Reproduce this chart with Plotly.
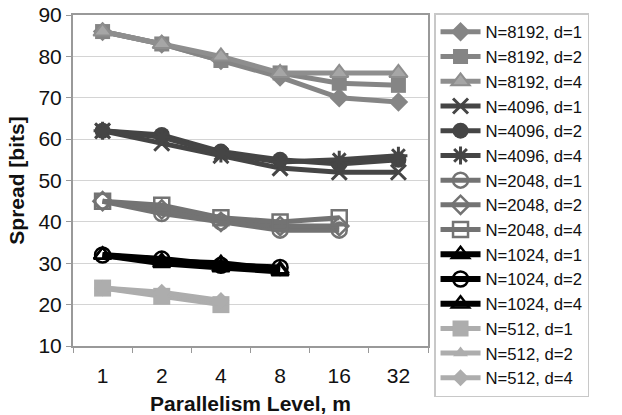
import plotly.graph_objects as go

levels = ["1", "2", "4", "8", "16", "32"]

n8192_d1 = [86, 83, 79, 75, 70, 69]
n8192_d2 = [86, 83, 79, 76, 73.5, 73]
n8192_d4 = [86, 83, 80, 76, 76, 76]
n4096_d1 = [62, 59, 56, 53, 52, 52]
n4096_d2 = [62, 61, 57, 55, 54, 55]
n4096_d4 = [62, 60.5, 56.5, 54.5, 55, 56]
n2048_d1 = [45, 42, 40, 38, 38]
n2048_d2 = [45, 43, 40, 39, 39]
n2048_d4 = [45, 44, 41, 40, 41]
n1024_d1 = [32, 30, 29, 28]
n1024_d2 = [32, 31, 29.5, 29]
n1024_d4 = [32, 30.5, 30, 28.5]
n512_d1 = [24, 22, 20]
n512_d2 = [24, 22.5, 20.5]
n512_d4 = [24, 23, 21]

series = [
    ("N=8192, d=1", n8192_d1, "#858585", "diamond", 5, dict(color="#858585", size=15)),
    ("N=8192, d=2", n8192_d2, "#858585", "square", 5, dict(color="#858585", size=15)),
    ("N=8192, d=4", n8192_d4, "#8e8e8e", "triangle-up", 5, dict(color="#a6a6a6", size=16, line=dict(color="#8e8e8e", width=2))),
    ("N=4096, d=1", n4096_d1, "#454545", "x-thin-open", 5, dict(color="#454545", size=15, line=dict(color="#454545", width=3))),
    ("N=4096, d=2", n4096_d2, "#454545", "circle", 5, dict(color="#454545", size=16)),
    ("N=4096, d=4", n4096_d4, "#454545", "asterisk-open", 5, dict(color="#454545", size=15, line=dict(color="#454545", width=3))),
    ("N=2048, d=1", n2048_d1, "#737373", "circle-open", 5, dict(color="#737373", size=15, line=dict(color="#737373", width=2.5))),
    ("N=2048, d=2", n2048_d2, "#737373", "diamond-open", 5, dict(color="#737373", size=14, line=dict(color="#737373", width=2.5))),
    ("N=2048, d=4", n2048_d4, "#737373", "square-open", 5, dict(color="#737373", size=15, line=dict(color="#737373", width=2.5))),
    ("N=1024, d=1", n1024_d1, "#000000", "triangle-up-open", 6, dict(color="#000000", size=15, line=dict(color="#000000", width=2.5))),
    ("N=1024, d=2", n1024_d2, "#000000", "circle-open", 6, dict(color="#000000", size=15, line=dict(color="#000000", width=2.5))),
    ("N=1024, d=4", n1024_d4, "#000000", "triangle-up-open", 6, dict(color="#000000", size=15, line=dict(color="#000000", width=2.5))),
    ("N=512, d=1", n512_d1, "#adadad", "square", 5, dict(color="#adadad", size=17)),
    ("N=512, d=2", n512_d2, "#adadad", "triangle-up", 5, dict(color="#adadad", size=13)),
    ("N=512, d=4", n512_d4, "#adadad", "diamond", 5, dict(color="#adadad", size=13)),
]

fig = go.Figure()
for rank, (name, vals, col, sym, lw, mk) in enumerate(series):
    m = dict(symbol=sym)
    m.update(mk)
    fig.add_trace(go.Scatter(
        x=levels[:len(vals)], y=vals, name=name, mode="lines+markers",
        line=dict(color=col, width=lw), marker=m, legendrank=rank + 1,
    ))

fig.update_layout(
    width=622, height=415,
    margin=dict(l=73, r=194, t=15, b=69),
    paper_bgcolor="white", plot_bgcolor="white",
    font=dict(family="Liberation Sans, Arial, sans-serif", size=21, color="#111111"),
    legend=dict(
        x=1.017, y=1.006, xanchor="left", yanchor="top",
        font=dict(size=16.7, color="#111111"),
        bordercolor="#c8c8c8", borderwidth=1.5, bgcolor="white",
        tracegroupgap=0, itemwidth=40, maxheight=1,
    ),
    showlegend=True,
)
fig.update_xaxes(
    type="category", categoryorder="array", categoryarray=levels,
    range=[-0.5, 5.5], tickson="boundaries", ticks="outside", ticklen=5,
    tickcolor="#999999", showline=True, linecolor="#999999", linewidth=2,
    mirror=True, showgrid=False, automargin=False, ticklabelstandoff=10,
    title=dict(text="<b>Parallelism Level, m</b>", font=dict(size=21), standoff=14),
    tickfont=dict(size=21),
)
fig.update_yaxes(
    range=[10, 90], dtick=10, ticks="outside", ticklen=5, tickcolor="#999999",
    showline=True, linecolor="#999999", linewidth=2, mirror=True,
    showgrid=True, gridcolor="#d4d4d4", gridwidth=1.2, automargin=False,
    zeroline=False,
    title=dict(text="<b>Spread [bits]</b>", font=dict(size=21), standoff=8),
    tickfont=dict(size=21),
)

fig.write_html("out.html")
